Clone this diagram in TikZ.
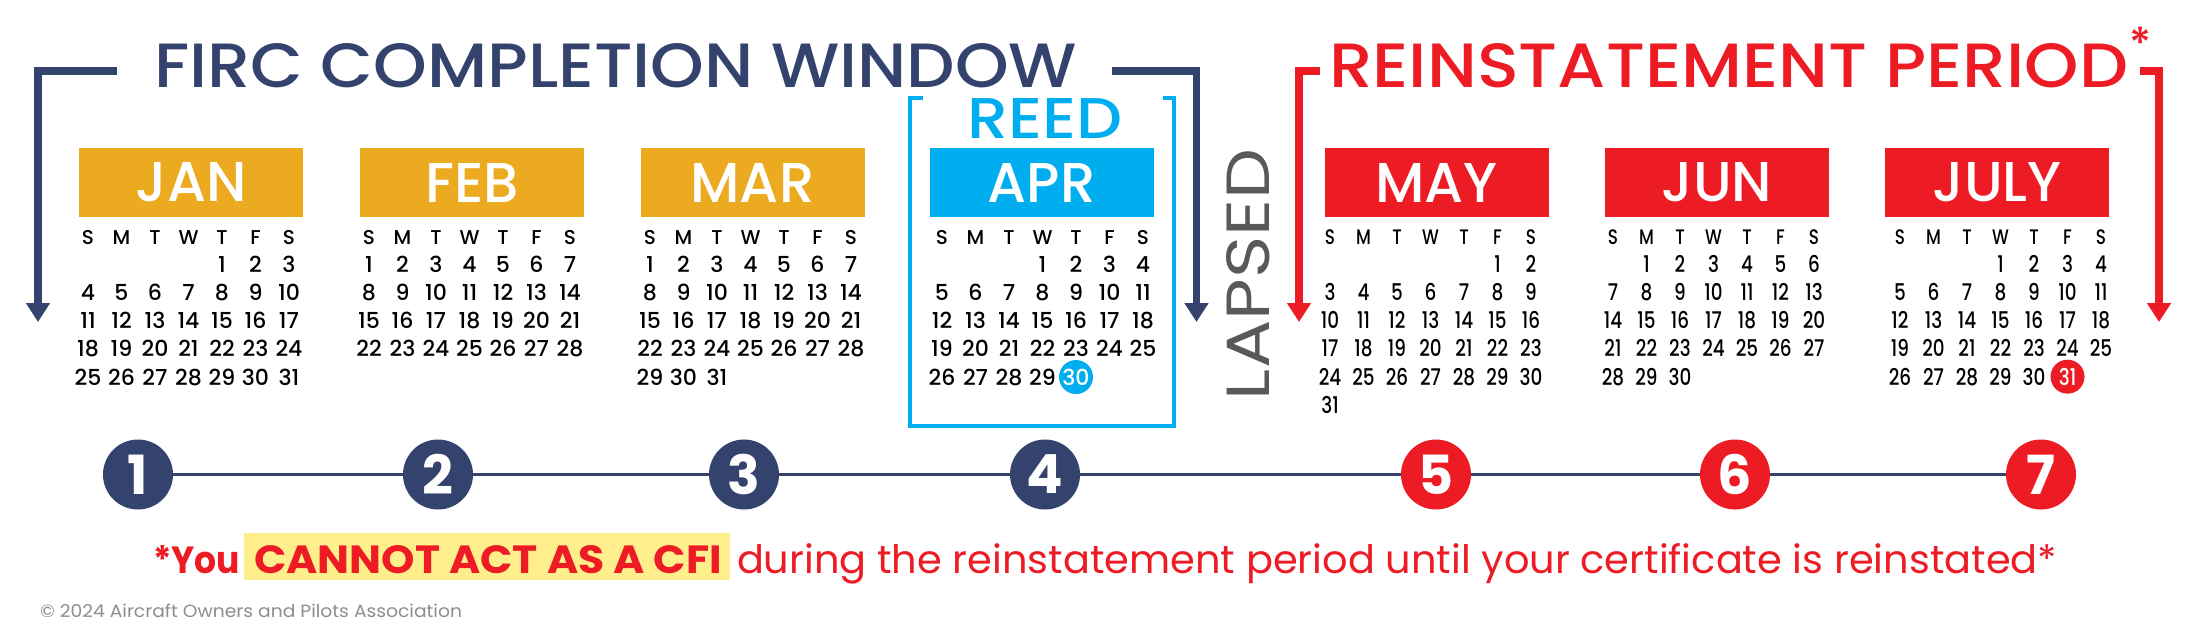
\documentclass[tikz,border=0pt]{standalone}
\usepackage{fontspec}
\usepackage{graphicx}
\usetikzlibrary{arrows.meta}
\setmainfont{Poppins}
\newfontfamily\pmed{Poppins Medium}
\newfontfamily\psemi{Poppins SemiBold}
\newfontfamily\pbold{Poppins Bold}
\newfontfamily\pmedc{Poppins Medium}[FakeStretch=0.8]
\definecolor{navy}{HTML}{33436E}
\definecolor{gold}{HTML}{ECAA20}
\definecolor{cyanA}{HTML}{00AEEF}
\definecolor{redA}{HTML}{ED1C24}
\definecolor{grayL}{HTML}{58595B}
\definecolor{hilite}{HTML}{FFEE8C}
\definecolor{grayC}{HTML}{8E8E8E}
\tikzset{
  txt/.style={inner sep=0pt, outer sep=0pt},
  monthbox/.style={minimum width=224pt, minimum height=69pt, inner sep=0pt, text=white},
  ghead/.style={inner sep=0pt, anchor=base, font=\pmed\fontsize{20}{20}\selectfont},
  gnum/.style={inner sep=0pt, anchor=base, font=\pmed\fontsize{22}{22}\selectfont},
  rhead/.style={inner sep=0pt, anchor=base, font=\pmedc\fontsize{21}{21}\selectfont},
  rnum/.style={inner sep=0pt, anchor=base, font=\pmedc\fontsize{23}{23}\selectfont},
  stepcircle/.style={circle, minimum size=70pt, inner sep=0pt, text=white, font=\pbold\fontsize{54}{54}\selectfont},
  bracketline/.style={line width=7.5pt, -{Triangle[width=23pt,length=19pt]}},
}
\newcommand\monthtxt[1]{\resizebox{!}{39pt}{\pmed #1}}
\newcommand\calmonth[7]{%
  \foreach \hd [count=\hi from 0] in {S,M,T,W,T,F,S}{
    \node[#5head] (#1-h\hi) at ({#2+33.5*\hi},244) {\hd};
  }
  \foreach \dd in {1,...,#4}{
    \pgfmathtruncatemacro\cpos{\dd-1+#3}
    \pgfmathtruncatemacro\ccol{mod(\cpos,7)}
    \pgfmathtruncatemacro\crow{div(\cpos,7)}
    \ifnum\dd=#6\relax
      \node[#5num, circle, fill=#7, text=white, minimum size=34pt] (#1-d\dd) at ({#2+33.5*\ccol},{272+28.3*\crow}) {\dd};
    \else
      \node[#5num] (#1-d\dd) at ({#2+33.5*\ccol},{272+28.3*\crow}) {\dd};
    \fi
  }
}
\begin{document}
\begin{tikzpicture}[x=1pt,y=-1pt]
\fill[white] (0,0) rectangle (2200,633);
\useasboundingbox (0,0) rectangle (2200,633);

% titles
\node[txt, anchor=base west, text=navy] (firc) at (154,87) {\resizebox{923pt}{44pt}{\pmed FIRC COMPLETION WINDOW}};
\node[txt, anchor=base west, text=redA] (reinst) at (1329,87) {\resizebox{799pt}{44pt}{\pmed REINSTATEMENT PERIOD}};
\node[txt, anchor=north west, text=redA, font=\pmed\fontsize{44}{44}\selectfont] (ast) at (2129,27) {*};

% brackets with arrows
\coordinate (nlA) at (117,71);
\coordinate (nlB) at (38,71);
\coordinate (nlC) at (38,322);
\draw[bracketline, navy] (nlA) -- (nlB) -- (nlC);
\coordinate (nrA) at (1112,71);
\coordinate (nrB) at (1196.5,71);
\coordinate (nrC) at (1196.5,322);
\draw[bracketline, navy] (nrA) -- (nrB) -- (nrC);
\coordinate (rlA) at (1320,71);
\coordinate (rlB) at (1299,71);
\coordinate (rlC) at (1299,322);
\draw[bracketline, redA] (rlA) -- (rlB) -- (rlC);
\coordinate (rrA) at (2140,71);
\coordinate (rrB) at (2159,71);
\coordinate (rrC) at (2159,322);
\draw[bracketline, redA] (rrA) -- (rrB) -- (rrC);

% REED bracket
\coordinate (rb1) at (923,98);
\coordinate (rb2) at (910,98);
\coordinate (rb3) at (910,425.5);
\coordinate (rb4) at (1174,425.5);
\coordinate (rb5) at (1174,98);
\coordinate (rb6) at (1163,98);
\draw[cyanA, line width=4pt] (rb1) -- (rb2) -- (rb3) -- (rb4) -- (rb5) -- (rb6);
\node[txt, anchor=base west, text=cyanA] (reed) at (967,138) {\resizebox{155pt}{40pt}{\pmed REED}};

% LAPSED
\node[txt, rotate=90, text=grayL] (lapsed) at (1248.5,274.5) {\resizebox{251pt}{43pt}{LAPSED}};

% month headers
\node[monthbox, fill=gold] (jan) at (191,182.5) {\monthtxt{JAN}};
\node[monthbox, fill=gold] (feb) at (472,182.5) {\monthtxt{FEB}};
\node[monthbox, fill=gold] (mar) at (752.5,182.5) {\monthtxt{MAR}};
\node[monthbox, fill=cyanA] (apr) at (1041.5,182.5) {\monthtxt{APR}};
\node[monthbox, fill=redA] (may) at (1436.5,182.5) {\monthtxt{MAY}};
\node[monthbox, fill=redA] (jun) at (1717,182.5) {\monthtxt{JUN}};
\node[monthbox, fill=redA] (jul) at (1997,182.5) {\monthtxt{JULY}};

% calendars
\calmonth{cjan}{88}{4}{31}{g}{0}{white}
\calmonth{cfeb}{369}{0}{28}{g}{0}{white}
\calmonth{cmar}{650}{0}{31}{g}{0}{white}
\calmonth{capr}{942}{3}{30}{g}{30}{cyanA}
\calmonth{cmay}{1330}{5}{31}{r}{0}{white}
\calmonth{cjun}{1613}{1}{30}{r}{0}{white}
\calmonth{cjul}{1900}{3}{31}{r}{31}{redA}

% timeline
\node[stepcircle, fill=navy] (s1) at (138,474.5) {1};
\node[stepcircle, fill=navy] (s2) at (438,474.5) {2};
\node[stepcircle, fill=navy] (s3) at (744,474.5) {3};
\node[stepcircle, fill=navy] (s4) at (1045,474.5) {4};
\node[stepcircle, fill=redA] (s5) at (1436,474.5) {5};
\node[stepcircle, fill=redA] (s6) at (1735,474.5) {6};
\node[stepcircle, fill=redA] (s7) at (2041,474.5) {7};
\foreach \a/\b in {s1/s2,s2/s3,s3/s4,s4/s5,s5/s6,s6/s7}{
  \draw[navy, line width=3pt] (\a) -- (\b);
}

% bottom note
\node[fill=hilite, minimum width=486pt, minimum height=47pt, inner sep=0pt] (hl) at (487,556.5) {};
\node[txt, anchor=base west, text=redA] (you) at (153,573) {\resizebox{87pt}{28pt}{\pbold *You}};
\node[txt, anchor=base west, text=redA] (cannot) at (254,573) {\resizebox{468pt}{28pt}{\pbold CANNOT ACT AS A CFI}};
\node[txt, anchor=base west, text=redA] (during) at (737,573) {\resizebox{1320pt}{30pt}{during the reinstatement period until your certificate is reinstated*}};

% copyright
\node[txt, anchor=base west, text=grayC] (copy) at (40,617) {\resizebox{422pt}{13.5pt}{© 2024 Aircraft Owners and Pilots Association}};
\end{tikzpicture}
\end{document}
